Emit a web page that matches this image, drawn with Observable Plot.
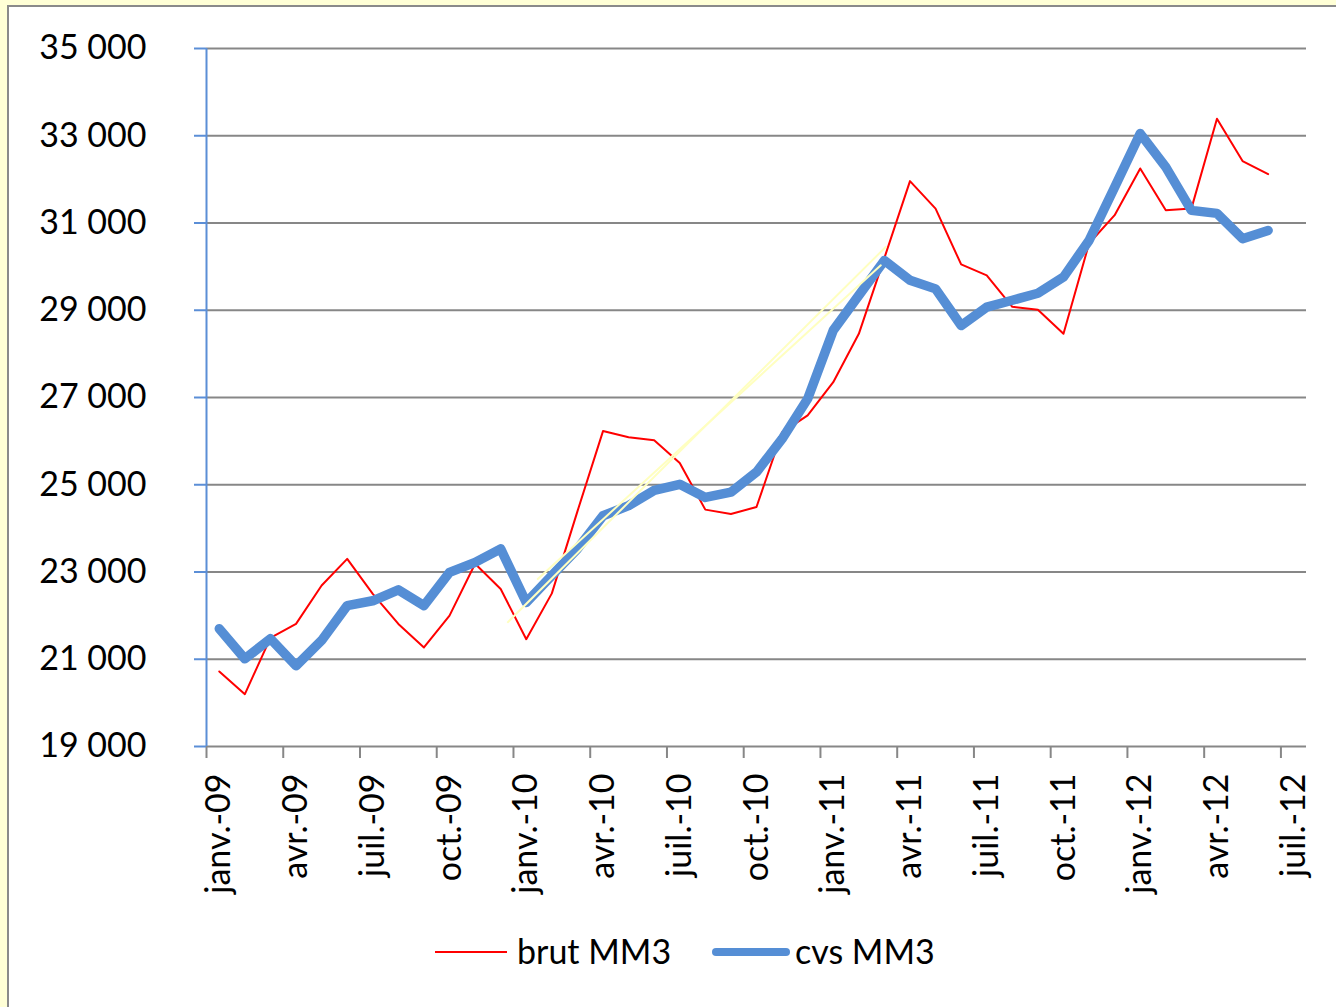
<!DOCTYPE html>
<html><head><meta charset="utf-8">
<script src="https://cdn.jsdelivr.net/npm/d3@7"></script>
<script src="https://cdn.jsdelivr.net/npm/@observablehq/plot@0.6"></script>
<style>
html,body{margin:0;padding:0;width:1336px;height:1007px;overflow:hidden;background:#ffffd6;font-family:Lato,"Open Sans",sans-serif;}
#frame{position:absolute;left:7px;top:5px;width:1329px;height:1002px;border-left:2px solid #8a8a8a;border-top:2px solid #8a8a8a;background:#fff;}
#chart{position:absolute;left:0;top:0;}
#legend{position:absolute;left:0;top:900px;width:1327px;height:100px;}
.sw{position:absolute;}
.lt{position:absolute;top:45px;transform:translateY(-52%);font-size:34px;line-height:1;color:#000;white-space:nowrap;}
</style></head><body>
<div id="frame"><div id="chart"></div><div id="legend"></div></div>
<script>
const months = ["2009-01","2009-02","2009-03","2009-04","2009-05","2009-06","2009-07","2009-08","2009-09","2009-10","2009-11","2009-12",
"2010-01","2010-02","2010-03","2010-04","2010-05","2010-06","2010-07","2010-08","2010-09","2010-10","2010-11","2010-12",
"2011-01","2011-02","2011-03","2011-04","2011-05","2011-06","2011-07","2011-08","2011-09","2011-10","2011-11","2011-12",
"2012-01","2012-02","2012-03","2012-04","2012-05","2012-06"];
const brut = [20720,20200,21490,21810,22690,23300,22500,21810,21270,22000,23190,22610,
21460,22510,24390,26230,26090,26020,25500,24430,24330,24490,26200,26590,
27350,28460,30200,31960,31330,30050,29800,29080,29010,28460,30530,31180,
32250,31290,31330,33390,32420,32120];
const cvs = [21700,21010,21470,20850,21430,22230,22340,22590,22230,22990,23220,23530,
22300,22920,23530,24290,24520,24870,25010,24710,24830,25290,26050,26970,
28540,29340,30140,29690,29490,28650,29070,29230,29390,29760,30600,31820,
33050,32280,31290,31220,30640,30830];
const tickMonths = ["2009-01","2009-04","2009-07","2009-10","2010-01","2010-04","2010-07","2010-10","2011-01","2011-04","2011-07","2011-10","2012-01","2012-04","2012-07"];
const tickLabels = ["janv.-09","avr.-09","juil.-09","oct.-09","janv.-10","avr.-10","juil.-10","oct.-10","janv.-11","avr.-11","juil.-11","oct.-11","janv.-12","avr.-12","juil.-12"];
const yTicks = [19000,21000,23000,25000,27000,29000,31000,33000,35000];
const yTickLabels = ["19 000","21 000","23 000","25 000","27 000","29 000","31 000","33 000","35 000"];
// faint pale-yellow strokes visible in the reference
const overlayId = ["a","a","b","b"];
const overlayMonth = [11.78,26.55,12.95,26.36];
const overlayValue = [21850,30450,22840,30030];

const toIdx = s => { const [y,m] = s.split("-").map(Number); return (y-2009)*12 + (m-1); };
const rows = months.map((s,i)=>({x: toIdx(s)+0.5, brut: brut[i], cvs: cvs[i]}));
const ticksX = tickMonths.map(toIdx);
const overlay = overlayId.map((id,i)=>({id, x: overlayMonth[i], v: overlayValue[i]}));

const blue = "#558ed5", axisBlue = "#5b8ed6", grid = "#878787";
const chart = Plot.plot({
  width:1327, height:900, marginLeft:197, marginRight:30, marginTop:41, marginBottom:161,
  x:{type:"linear", domain:[0,43], axis:null, label:null},
  y:{domain:[19000,35000], axis:null, label:null},
  style:{fontFamily:"Lato, 'Open Sans', sans-serif", background:"transparent", overflow:"visible", color:"black"},
  marks:[
    Plot.ruleY(yTicks, {stroke:grid, strokeWidth:2}),
    Plot.axisX(ticksX, {tickSize:12, stroke:grid, strokeWidth:2, fill:"none", label:null}),
    Plot.text(ticksX, {x:d=>d, y:()=>19000, text:(d,i)=>tickLabels[i], rotate:-90, textAnchor:"end", lineAnchor:"middle", dx:13, dy:27, fontSize:34, fill:"black"}),
    Plot.ruleX([0], {y1:19000, y2:35000, stroke:axisBlue, strokeWidth:2}),
    Plot.axisY(yTicks, {tickSize:12, stroke:axisBlue, strokeWidth:2, tickPadding:48, fontSize:34, fill:"black", label:null, tickFormat:d=>yTickLabels[yTicks.indexOf(d)]}),
    Plot.line(rows, {x:"x", y:"brut", stroke:"#ff0000", strokeWidth:2}),
    Plot.line(rows, {x:"x", y:"cvs", stroke:blue, strokeWidth:9.5, strokeLinejoin:"round", strokeLinecap:"round"}),
    Plot.line(overlay, {x:"x", y:"v", z:"id", stroke:"#ffffc0", strokeWidth:2})
  ]
});
document.getElementById("chart").appendChild(chart);

const legend = document.getElementById("legend");
legend.innerHTML = `
<div class="sw" style="left:426px;top:44px;width:72px;height:2px;background:#ff0000"></div>
<div class="lt" style="left:508px">brut MM3</div>
<div class="sw" style="left:703px;top:41px;width:78px;height:8px;border-radius:4px;background:${blue}"></div>
<div class="lt" style="left:786px">cvs MM3</div>`;
</script>
</body></html>
